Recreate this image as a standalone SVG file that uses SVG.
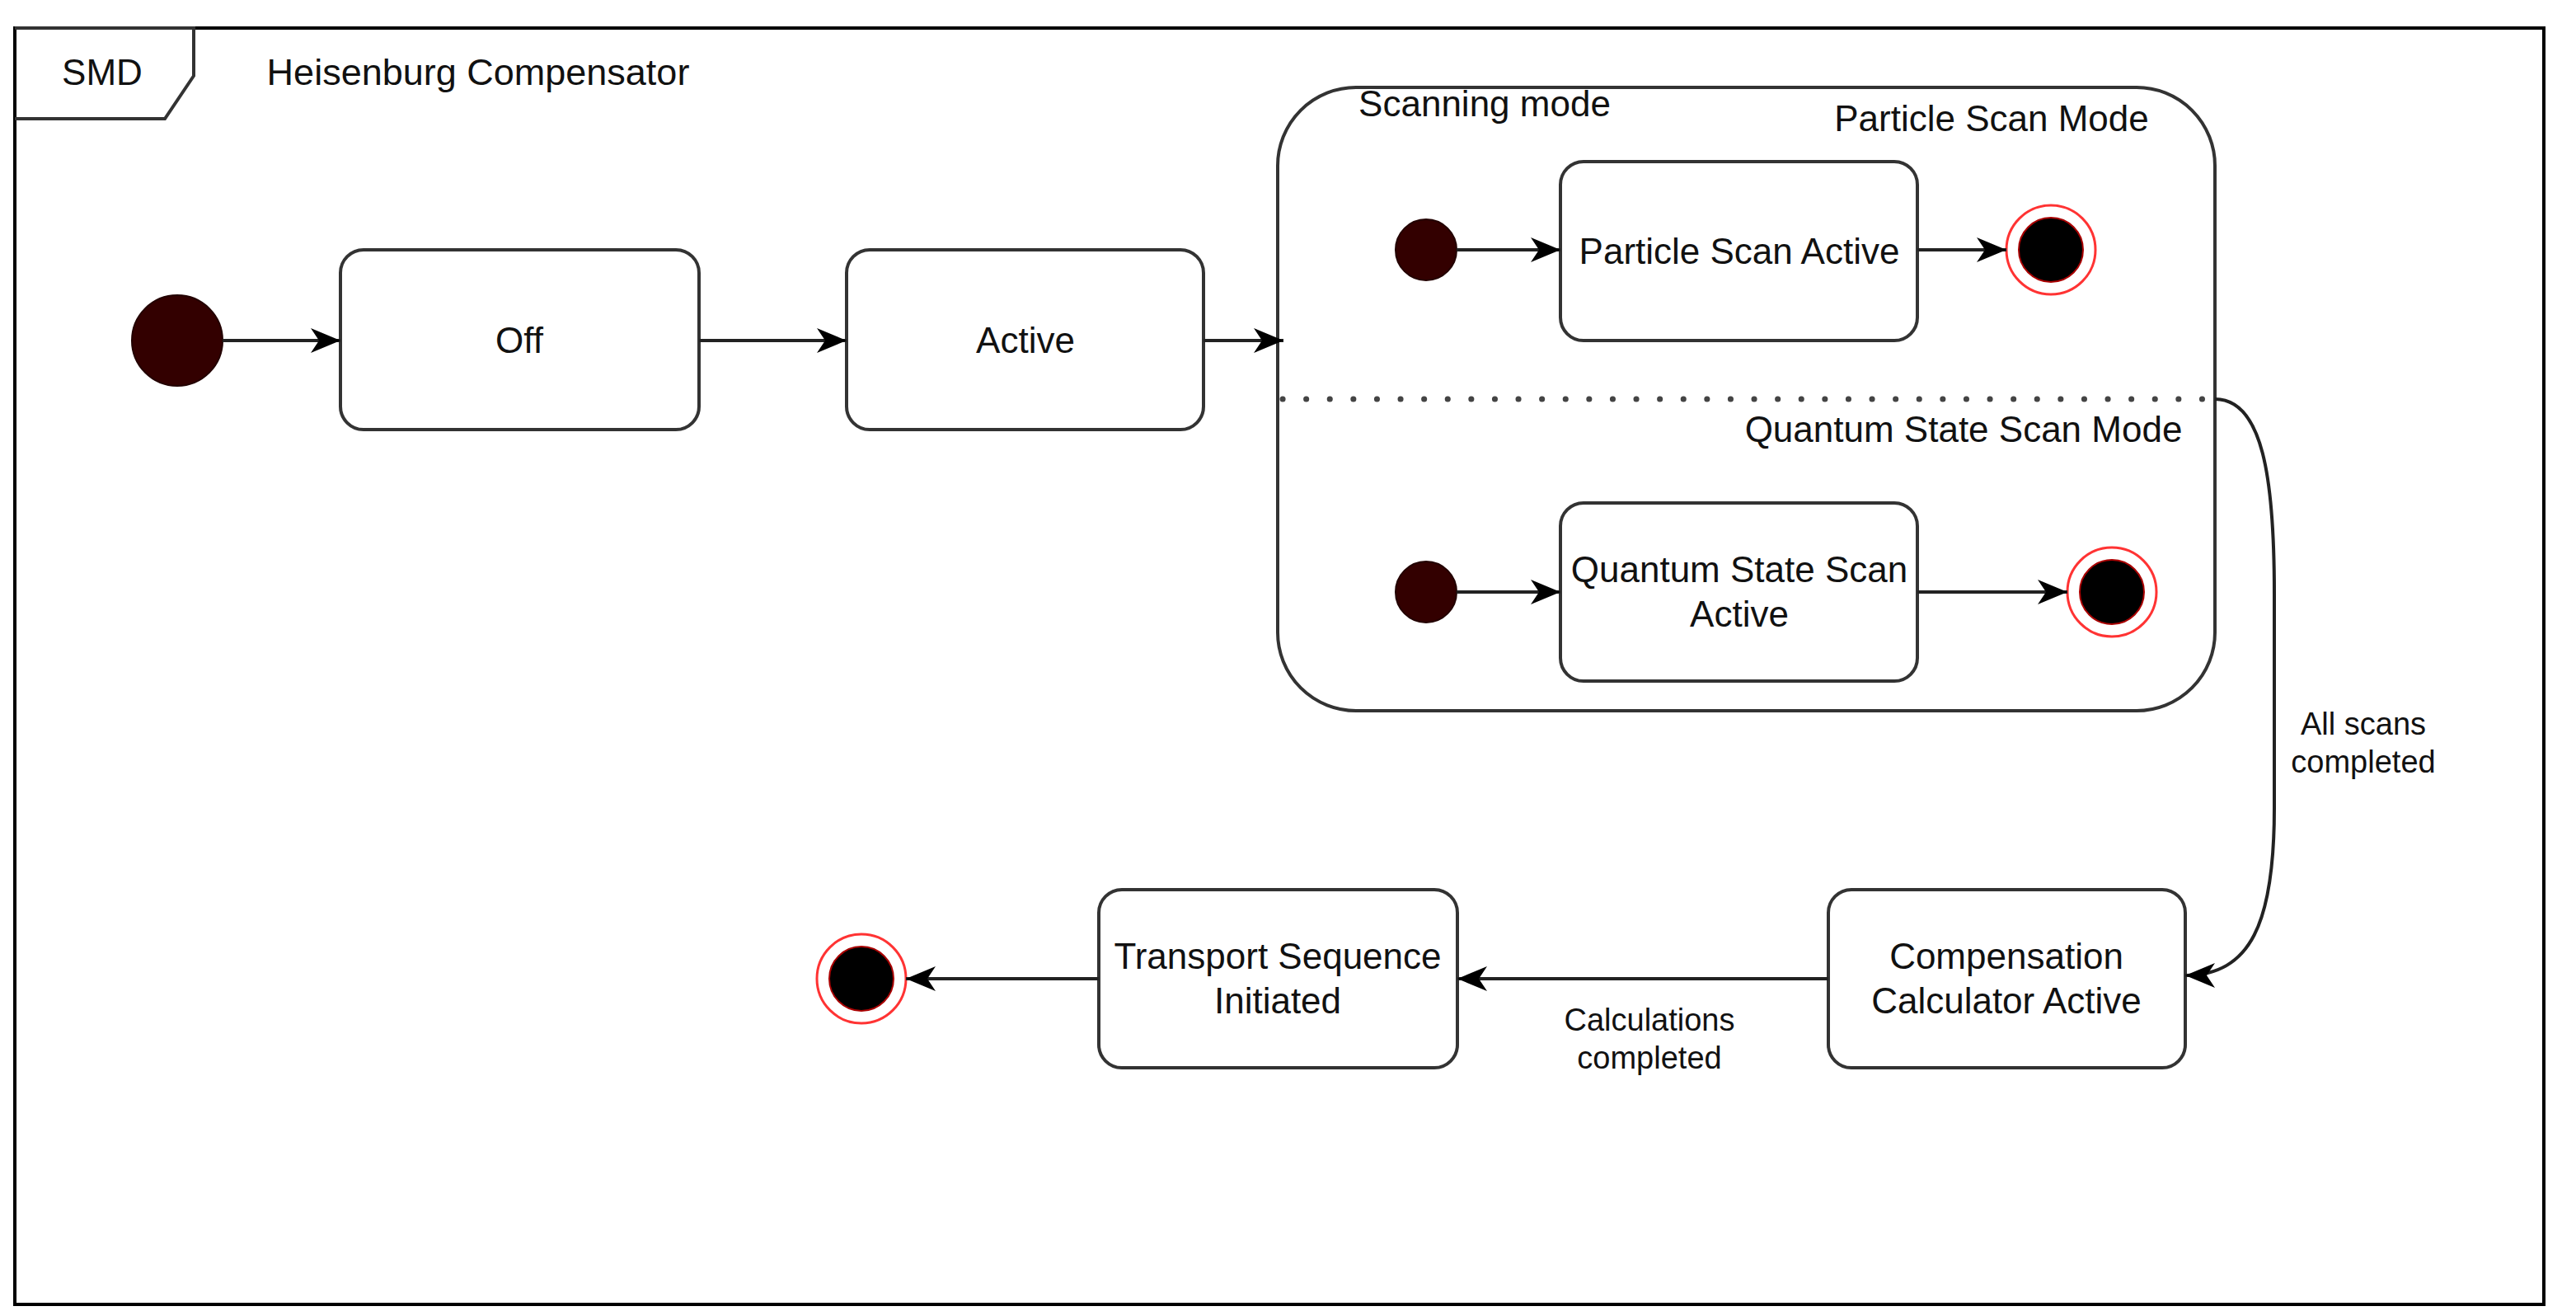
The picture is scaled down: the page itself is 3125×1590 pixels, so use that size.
<svg xmlns="http://www.w3.org/2000/svg" width="3125" height="1590" viewBox="0 0 3125 1590">
<style>
.t{font-family:"Liberation Sans",Arial,sans-serif;font-size:44px;fill:#111;text-anchor:middle}
.s{font-family:"Liberation Sans",Arial,sans-serif;font-size:38px;fill:#111;text-anchor:middle}
.box{fill:#fff;stroke:#333;stroke-width:4}
.init{fill:#330000;stroke:#220000;stroke-width:2}
.fo{fill:#fff;stroke:#ff3333;stroke-width:3}
.fi{fill:#000;stroke:#aa0000;stroke-width:2}
.edge{fill:none;stroke:#222;stroke-width:4}
</style>
<defs>
<marker id="arr" markerUnits="userSpaceOnUse" markerWidth="40" markerHeight="32" refX="36" refY="15" orient="auto" overflow="visible">
<path d="M0,0 L36,15 L0,30 L10,15 Z" fill="#000"/>
</marker>
</defs>
<rect width="3125" height="1590" fill="#fff"/>
<g id="frame">
<rect x="18" y="34" width="3068" height="1548" fill="none" stroke="#000" stroke-width="4"/>
<path d="M18,34 L235,34 L235,92 L200,144 L18,144" fill="none" stroke="#333" stroke-width="4"/>
<text class="t" x="124" y="103">SMD</text>
<text class="t" x="580" y="103" style="font-size:45px">Heisenburg Compensator</text>
</g>
<g id="scanning-mode">
<rect x="1550" y="106" width="1137" height="756" rx="95" ry="95" class="box"/>
<line x1="1556" y1="484" x2="2687" y2="484" stroke="#444" stroke-width="7" stroke-linecap="round" stroke-dasharray="0.1 28.5"/>
<text class="t" x="1801" y="141">Scanning mode</text>
<text class="t" x="2416" y="159">Particle Scan Mode</text>
<text class="t" x="2382" y="536">Quantum State Scan Mode</text>
</g>
<g id="init-main"><circle cx="215" cy="413" r="55" class="init"/></g>
<g id="off"><rect x="413" y="303" width="435" height="218" rx="28" class="box"/><text class="t" x="630" y="428">Off</text></g>
<g id="active"><rect x="1027" y="303" width="433" height="218" rx="28" class="box"/><text class="t" x="1244" y="428">Active</text></g>
<g id="init-ps"><circle cx="1730" cy="303" r="37" class="init"/></g>
<g id="particle-scan-active"><rect x="1893" y="196" width="433" height="217" rx="28" class="box"/><text class="t" x="2110" y="320">Particle Scan Active</text></g>
<g id="final-ps"><circle cx="2488" cy="303" r="54" class="fo"/><circle cx="2488" cy="303" r="39" class="fi"/></g>
<g id="init-qs"><circle cx="1730" cy="718" r="37" class="init"/></g>
<g id="quantum-state-scan-active"><rect x="1893" y="610" width="433" height="216" rx="28" class="box"/><text class="t" x="2110" y="706">Quantum State Scan</text><text class="t" x="2110" y="760">Active</text></g>
<g id="final-qs"><circle cx="2562" cy="718" r="54" class="fo"/><circle cx="2562" cy="718" r="39" class="fi"/></g>
<g id="compensation"><rect x="2218" y="1079" width="433" height="216" rx="28" class="box"/><text class="t" x="2434" y="1175">Compensation</text><text class="t" x="2434" y="1229">Calculator Active</text></g>
<g id="transport"><rect x="1333" y="1079" width="435" height="216" rx="28" class="box"/><text class="t" x="1550" y="1175">Transport Sequence</text><text class="t" x="1550" y="1229">Initiated</text></g>
<g id="final-main"><circle cx="1045" cy="1187" r="54" class="fo"/><circle cx="1045" cy="1187" r="39" class="fi"/></g>
<g id="connectors">
<line x1="270" y1="413" x2="413" y2="413" class="edge" marker-end="url(#arr)"/>
<line x1="848" y1="413" x2="1027" y2="413" class="edge" marker-end="url(#arr)"/>
<line x1="1460" y1="413" x2="1557" y2="413" class="edge" marker-end="url(#arr)"/>
<line x1="1767" y1="303" x2="1893" y2="303" class="edge" marker-end="url(#arr)"/>
<line x1="2326" y1="303" x2="2434" y2="303" class="edge" marker-end="url(#arr)"/>
<line x1="1767" y1="718" x2="1893" y2="718" class="edge" marker-end="url(#arr)"/>
<line x1="2326" y1="718" x2="2508" y2="718" class="edge" marker-end="url(#arr)"/>
<path d="M2687,484 C2745,484 2759,580 2759,720 L2759,980 C2759,1120 2730,1183 2651,1183" class="edge" stroke-width="3" marker-end="url(#arr)"/>
<line x1="2218" y1="1187" x2="1768" y2="1187" class="edge" marker-end="url(#arr)"/>
<line x1="1333" y1="1187" x2="1099" y2="1187" class="edge" marker-end="url(#arr)"/>
<text class="s" x="2867" y="891">All scans</text>
<text class="s" x="2867" y="937">completed</text>
<text class="s" x="2001" y="1250">Calculations</text>
<text class="s" x="2001" y="1296">completed</text>
</g>
</svg>
